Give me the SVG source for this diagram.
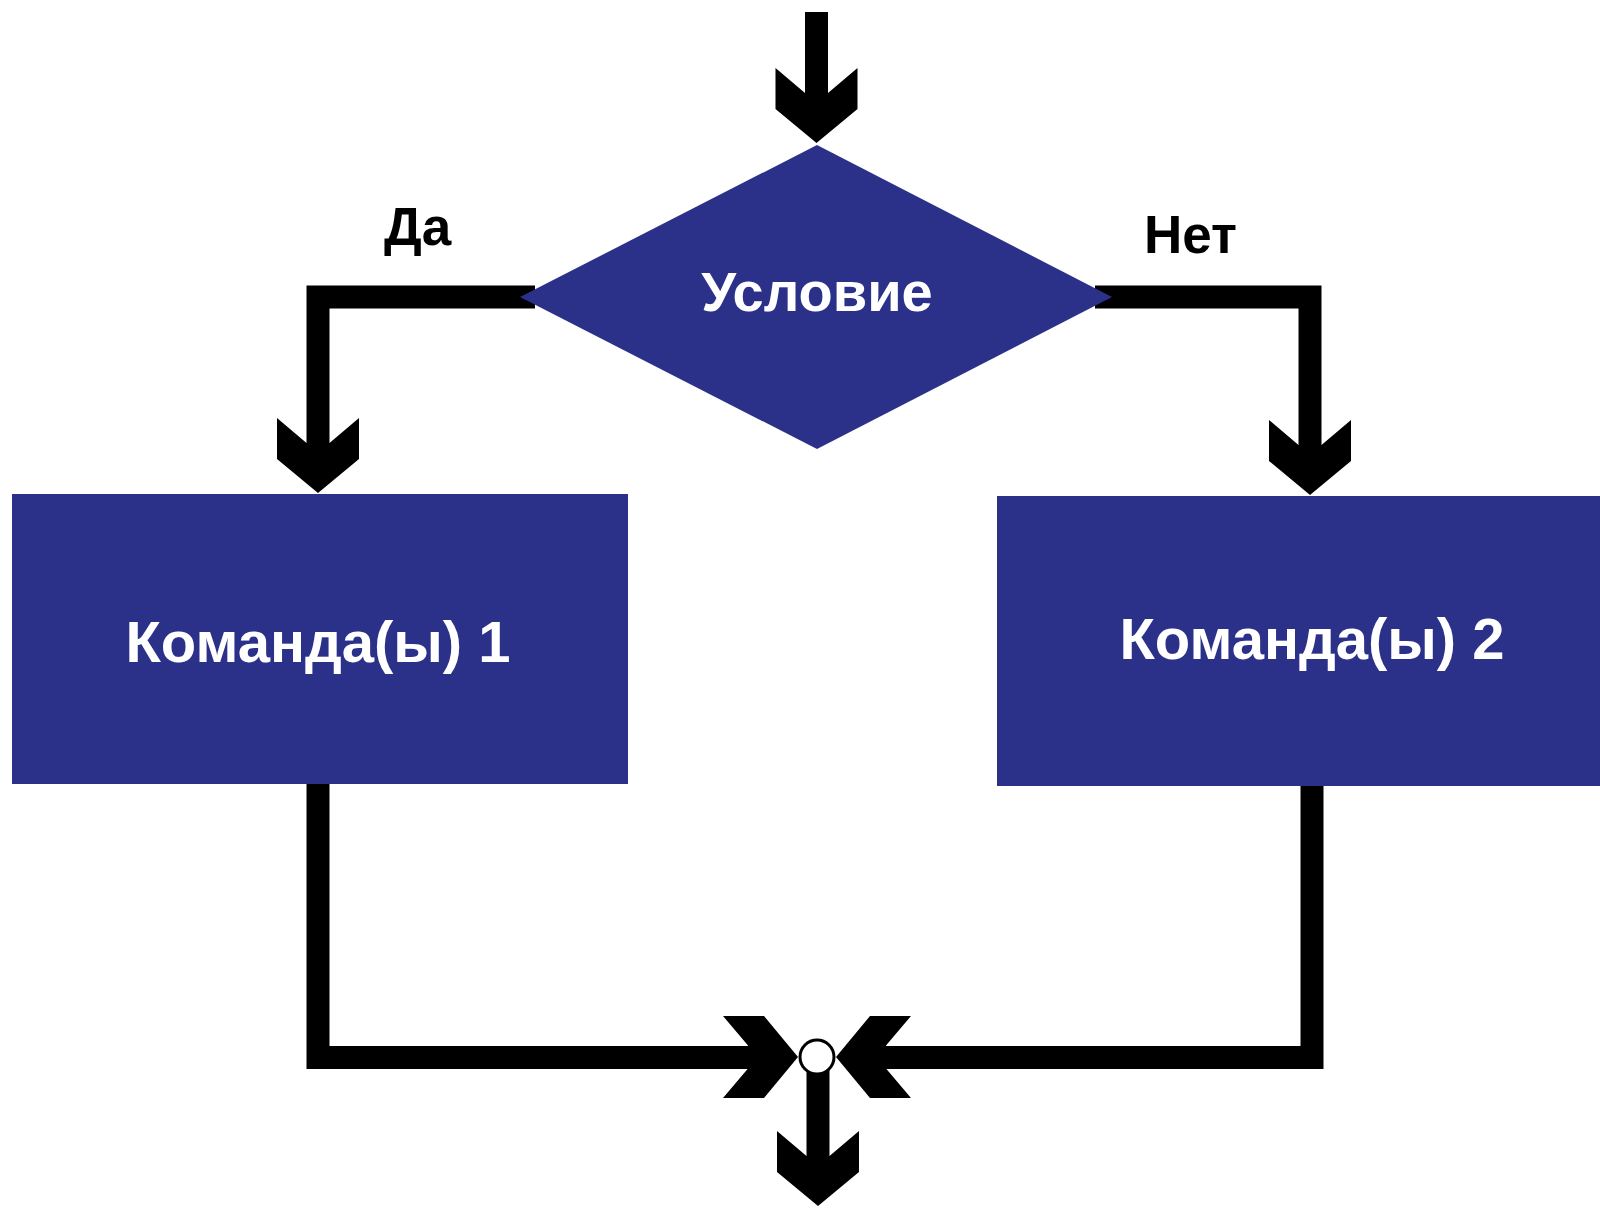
<svg xmlns="http://www.w3.org/2000/svg" xmlns:xlink="http://www.w3.org/1999/xlink" width="1600" height="1208" viewBox="0 0 1600 1208">
  <style>
    .bg { fill: #ffffff; }
    .node { fill: #2B3089; }
    .wire { fill: none; stroke: #000000; stroke-width: 23; stroke-linejoin: miter; stroke-linecap: butt; }
    .head { fill: #000000; }
    .ntext { font-family: "Liberation Sans", Arial, sans-serif; font-weight: bold; fill: #ffffff; text-anchor: middle; }
    .ltext { font-family: "Liberation Sans", Arial, sans-serif; font-weight: bold; fill: #000000; font-size: 53px; }
  </style>
  <defs>
    <polygon id="ah" points="-41,-75 -11.5,-50 11.5,-50 41,-75 41,-34 0,0 -41,-34"/>
  </defs>
  <rect class="bg" x="0" y="0" width="1600" height="1208"/>

  <g id="connectors">
    <path class="wire" d="M816.5,12 V100"/>
    <use xlink:href="#ah" href="#ah" class="head" transform="translate(816.5,143)"/>

    <path class="wire" d="M535,297 H318 V450"/>
    <use xlink:href="#ah" href="#ah" class="head" transform="translate(318,493)"/>

    <path class="wire" d="M1095,297 H1310 V450"/>
    <use xlink:href="#ah" href="#ah" class="head" transform="translate(1310,495)"/>

    <path class="wire" d="M318,780 V1057.5 H760"/>
    <use xlink:href="#ah" href="#ah" class="head" transform="translate(798,1057) rotate(-90)"/>

    <path class="wire" d="M1312,782 V1057.5 H875"/>
    <use xlink:href="#ah" href="#ah" class="head" transform="translate(836,1057) rotate(90)"/>

    <path class="wire" d="M818,1070 V1160"/>
    <use xlink:href="#ah" href="#ah" class="head" transform="translate(818,1206)"/>

    <text class="ltext" x="384" y="245">Да</text>
    <text class="ltext" x="1144" y="253">Нет</text>
  </g>

  <g id="decision">
    <polygon class="node" points="817,145 1112,297 817,449 520,297"/>
    <text class="ntext" x="817" y="311" font-size="56">Условие</text>
  </g>

  <g id="command1">
    <rect class="node" x="12" y="494" width="616" height="290"/>
    <text class="ntext" x="318" y="662" font-size="58">Команда(ы) 1</text>
  </g>

  <g id="command2">
    <rect class="node" x="997" y="496" width="603" height="290"/>
    <text class="ntext" x="1312" y="659" font-size="58">Команда(ы) 2</text>
  </g>

  <g id="merge">
    <circle cx="817" cy="1057" r="17" fill="#ffffff" stroke="#000000" stroke-width="3"/>
  </g>
</svg>
